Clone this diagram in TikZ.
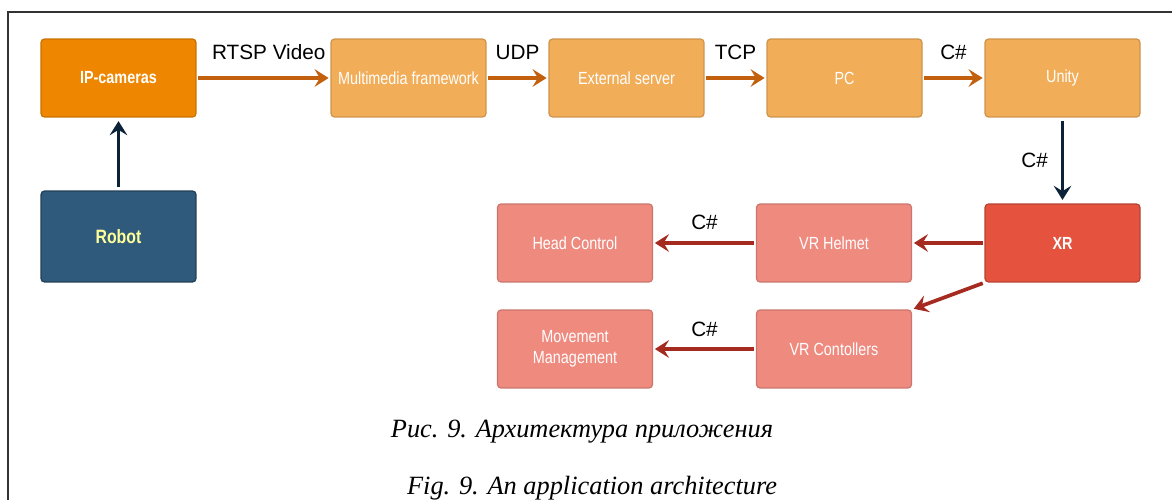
\documentclass[tikz,border=0pt]{standalone}
\usepackage{fontspec}
\setmainfont{Liberation Sans}
\newfontfamily\boxfont[FakeStretch=0.82]{Liberation Sans}
\newfontfamily\capfont{Liberation Serif}
\usetikzlibrary{arrows.meta}
\definecolor{camorange}{HTML}{EE8600}
\definecolor{lightorange}{HTML}{F2AD58}
\definecolor{robotblue}{HTML}{2F5A7C}
\definecolor{xrred}{HTML}{E5533F}
\definecolor{lightred}{HTML}{EF8A7F}
\definecolor{arroworange}{HTML}{C2600E}
\definecolor{arrownavy}{HTML}{0C2238}
\definecolor{arrowred}{HTML}{A52A1F}
\begin{document}
\begin{tikzpicture}[x=0.02cm,y=-0.02cm,
	box/.style={draw,rounded corners=2pt,line width=0.7pt,minimum width=3.1cm,minimum height=1.56cm,
		text=white,align=center,font=\boxfont\fontsize{10}{12}\selectfont},
	link/.style={line width=2.1pt,-{Stealth[length=8pt,width=10pt,inset=3pt]},shorten <=1pt,shorten >=1pt},
	tag/.style={font=\fontsize{11.8}{13}\selectfont,text=black}]
	\useasboundingbox (0,0) rectangle (1172,500);
	\draw[line width=1pt,black!80] (8,500) -- (8,12) -- (1172,12);

	% top row
	\path (118.5,78) node[box,fill=camorange,draw=camorange!85!black,font=\boxfont\bfseries\fontsize{10}{12}\selectfont] (cam) {IP-cameras};
	\path (408.5,78) node[box,fill=lightorange,draw=lightorange!85!black] (mmf) {Multimedia framework};
	\path (626.5,78) node[box,fill=lightorange,draw=lightorange!85!black] (ext) {External server};
	\path (844.5,78) node[box,fill=lightorange,draw=lightorange!85!black] (pc) {PC};
	\path (1062.5,78) node[box,fill=lightorange,draw=lightorange!85!black] (unity) {Unity};

	% robot and xr
	\path (118.5,236.5) node[box,minimum height=1.82cm,fill=robotblue,draw=robotblue!70!black,text={rgb,255:red,255;green,255;blue,153},font=\boxfont\bfseries\fontsize{11}{13}\selectfont] (robot) {Robot};
	\path (1062.5,243) node[box,fill=xrred,draw=xrred!80!black,font=\boxfont\bfseries\fontsize{10}{12}\selectfont] (xr) {XR};

	% vr devices
	\path (834,243) node[box,fill=lightred,draw=lightred!85!black] (helmet) {VR Helmet};
	\path (834,349) node[box,fill=lightred,draw=lightred!85!black] (ctrl) {VR Contollers};
	\path (575,243) node[box,fill=lightred,draw=lightred!85!black] (head) {Head Control};
	\path (575,349) node[box,fill=lightred,draw=lightred!85!black] (move) {Movement\\Management};

	% connectors
	\draw[link,arroworange] (cam)  -- (mmf)   node[tag,midway,above=6pt,xshift=3pt] {RTSP Video};
	\draw[link,arroworange] (mmf)  -- (ext)   node[tag,midway,above=6pt] {UDP};
	\draw[link,arroworange] (ext)  -- (pc)    node[tag,midway,above=6pt] {TCP};
	\draw[link,arroworange] (pc)   -- (unity) node[tag,midway,above=6pt] {C\#};
	\draw[link,arrownavy,shorten <=2pt,shorten >=2pt] (robot) -- (cam);
	\draw[link,arrownavy,shorten <=2pt,shorten >=2pt] (unity) -- (xr) node[tag,midway,left=4pt] {C\#};
	\draw[link,arrowred] (xr) -- (helmet);
	\draw[link,arrowred] (xr.south west) -- (ctrl.north east);
	\draw[link,arrowred] (helmet) -- (head) node[tag,midway,above=3pt] {C\#};
	\draw[link,arrowred] (ctrl)   -- (move) node[tag,midway,above=2.5pt] {C\#};

	% caption
	\path (582,437) node[anchor=base,font=\capfont\itshape\fontsize{15}{17}\selectfont] (capru) {Рис. 9. Архитектура приложения};
	\path (592,494) node[anchor=base,font=\capfont\itshape\fontsize{15}{17}\selectfont] (capen) {Fig. 9. An application architecture};
\end{tikzpicture}
\end{document}
